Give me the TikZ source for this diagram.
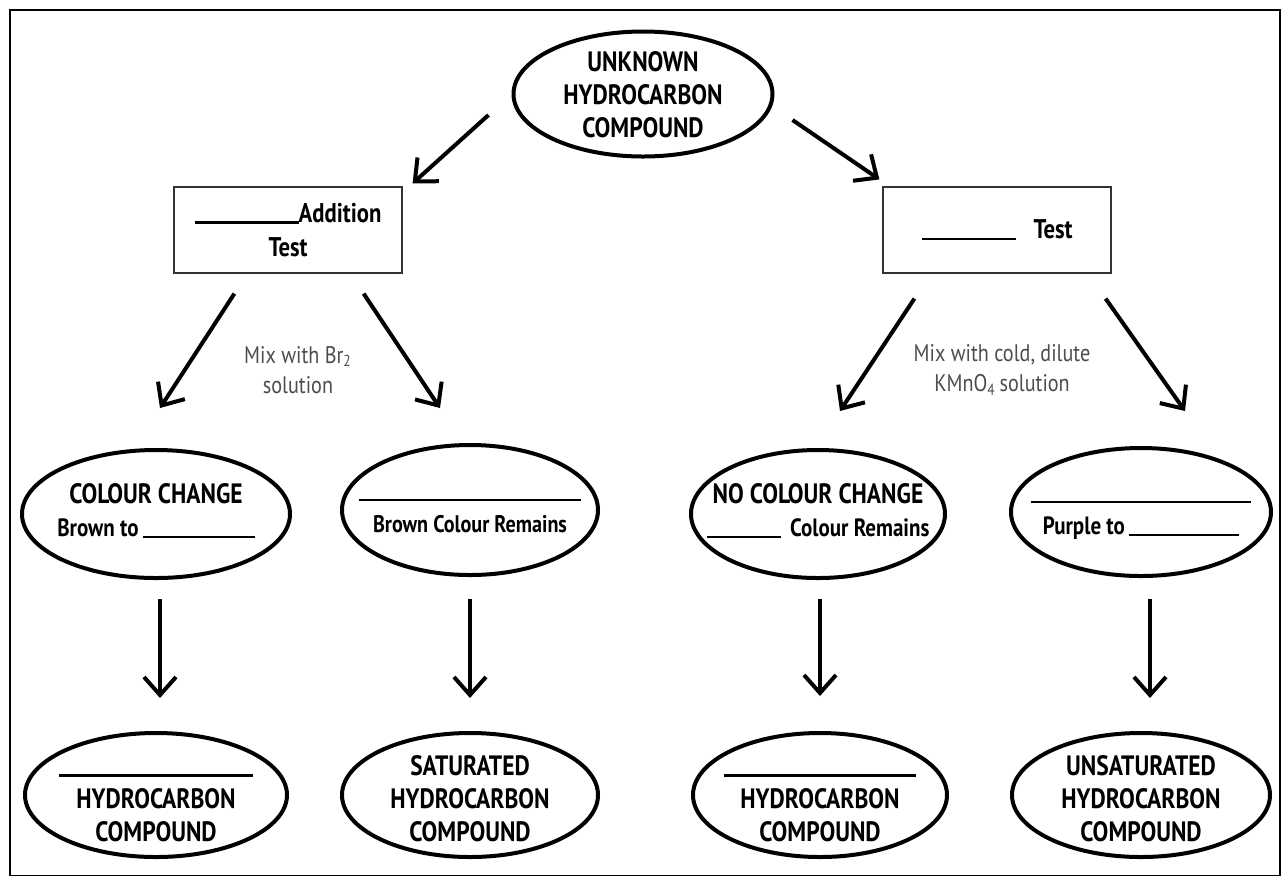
\documentclass[tikz,border=0pt]{standalone}
\usepackage{fontspec}
\setmainfont[FakeStretch=0.84]{PT Sans}
\usepackage{tikz}
\usetikzlibrary{shapes.geometric, arrows.meta, calc}
\tikzstyle{oval} = [ellipse, draw=black, line width=2pt, inner sep=0pt, minimum width=131pt, minimum height=62pt, font=\bfseries\fontsize{14}{16.5}\selectfont]
\tikzstyle{testbox} = [rectangle, draw=black!80, line width=0.6pt, inner sep=1pt, minimum width=114pt, minimum height=43pt, align=center, font=\bfseries\fontsize{13.5}{17}\selectfont]
\tikzstyle{mix} = [align=center, text=black!70, font=\fontsize{12}{15}\selectfont]
\tikzstyle{arrow} = [line width=2pt, -{Straight Barb[length=9pt,width=16pt]}]
\newcommand{\blank}[1]{\rule[-0.1ex]{#1}{1.3pt}}
\newcommand{\ovl}[2][-0.25em]{\raisebox{#1}[0pt][0pt]{\makebox[0pt]{\begin{tabular}{@{}c@{}}#2\end{tabular}}}}

\begin{document}
\begin{tikzpicture}[x=0.5pt,y=-0.5pt]
\useasboundingbox (0,0) rectangle (1281,875);
\draw[line width=1.2pt] (10,10) rectangle (1280,876);

\node[oval, minimum width=129.5pt, minimum height=62.5pt] (unknown) at (643,94) {\ovl[-0.4em]{UNKNOWN\\HYDROCARBON\\COMPOUND}};
\node[testbox] (addtest) at (288,230) {\blank{52pt}Addition\\Test};
\node[testbox] (oxtest) at (997,230) {\blank{47pt}\hspace{9pt}Test};

\node[oval, minimum width=134pt, minimum height=64pt] (brchange) at (156,514) {\ovl{COLOUR CHANGE\\{\fontsize{12.5}{15}\selectfont Brown to\,\blank{56pt}}}};
\node[oval, minimum width=128pt, minimum height=65pt] (brremain) at (470,510) {\ovl{\blank{111pt}\\{\fontsize{12}{15}\selectfont Brown Colour Remains}}};
\node[oval, minimum width=127pt, minimum height=64pt] (nochange) at (818,514) {\ovl{NO COLOUR CHANGE\\{\fontsize{12.5}{15}\selectfont\blank{37pt}\, Colour Remains}}};
\node[oval, minimum width=130pt, minimum height=64pt] (kmnchange) at (1141,512) {\ovl{\blank{110pt}\\{\fontsize{12.5}{15}\selectfont Purple to\,\blank{55pt}}}};

\node[mix] (brmix) at (298,370) {Mix with Br\textsubscript{2}\\solution};
\node[mix] (kmnmix) at (1002,370) {Mix with cold, dilute\\KMnO\textsubscript{4}\,solution};

\node[oval] (hcleft) at (156,795) {\ovl[-0.5em]{\blank{97pt}\\HYDROCARBON\\COMPOUND}};
\node[oval, minimum width=128pt] (saturated) at (470,795) {\ovl[-0.5em]{SATURATED\\HYDROCARBON\\COMPOUND}};
\node[oval, minimum width=127pt] (hcright) at (820,795) {\ovl[-0.5em]{\blank{96pt}\\HYDROCARBON\\COMPOUND}};
\node[oval, minimum width=129pt] (unsaturated) at (1141,795) {\ovl[-0.5em]{UNSATURATED\\HYDROCARBON\\COMPOUND}};

% tests
\draw[arrow] ($(unknown.west)+(-23,21)$) -- ($(addtest.north east)+(10,-3)$);
\draw[arrow] ($(unknown.east)+(18,26)$) -- ($(oxtest.north west)+(-3,-7)$);
% observations
\draw[arrow] ($(addtest.south west)+(61,20)$) -- ($(brchange.north)+(4,-40)$);
\draw[arrow] ($(addtest.south east)+(-39,20)$) -- ($(brremain.north)+(-30,-35)$);
\draw[arrow] ($(oxtest.south west)+(32,25)$) -- ($(nochange.north)+(22,-37)$);
\draw[arrow] ($(oxtest.south east)+(-6,25)$) -- ($(kmnchange.north)+(44,-35)$);
% conclusions
\draw[arrow] ($(brchange.south)+(4,19)$) -- ($(hcleft.north)+(4,-33)$);
\draw[arrow] ($(brremain.south)+(0,22)$) -- ($(saturated.north)+(0,-33)$);
\draw[arrow] ($(nochange.south)+(2,19)$) -- ($(hcright.north)+(0,-35)$);
\draw[arrow] ($(kmnchange.south)+(9,21)$) -- ($(unsaturated.north)+(9,-33)$);
\end{tikzpicture}
\end{document}
